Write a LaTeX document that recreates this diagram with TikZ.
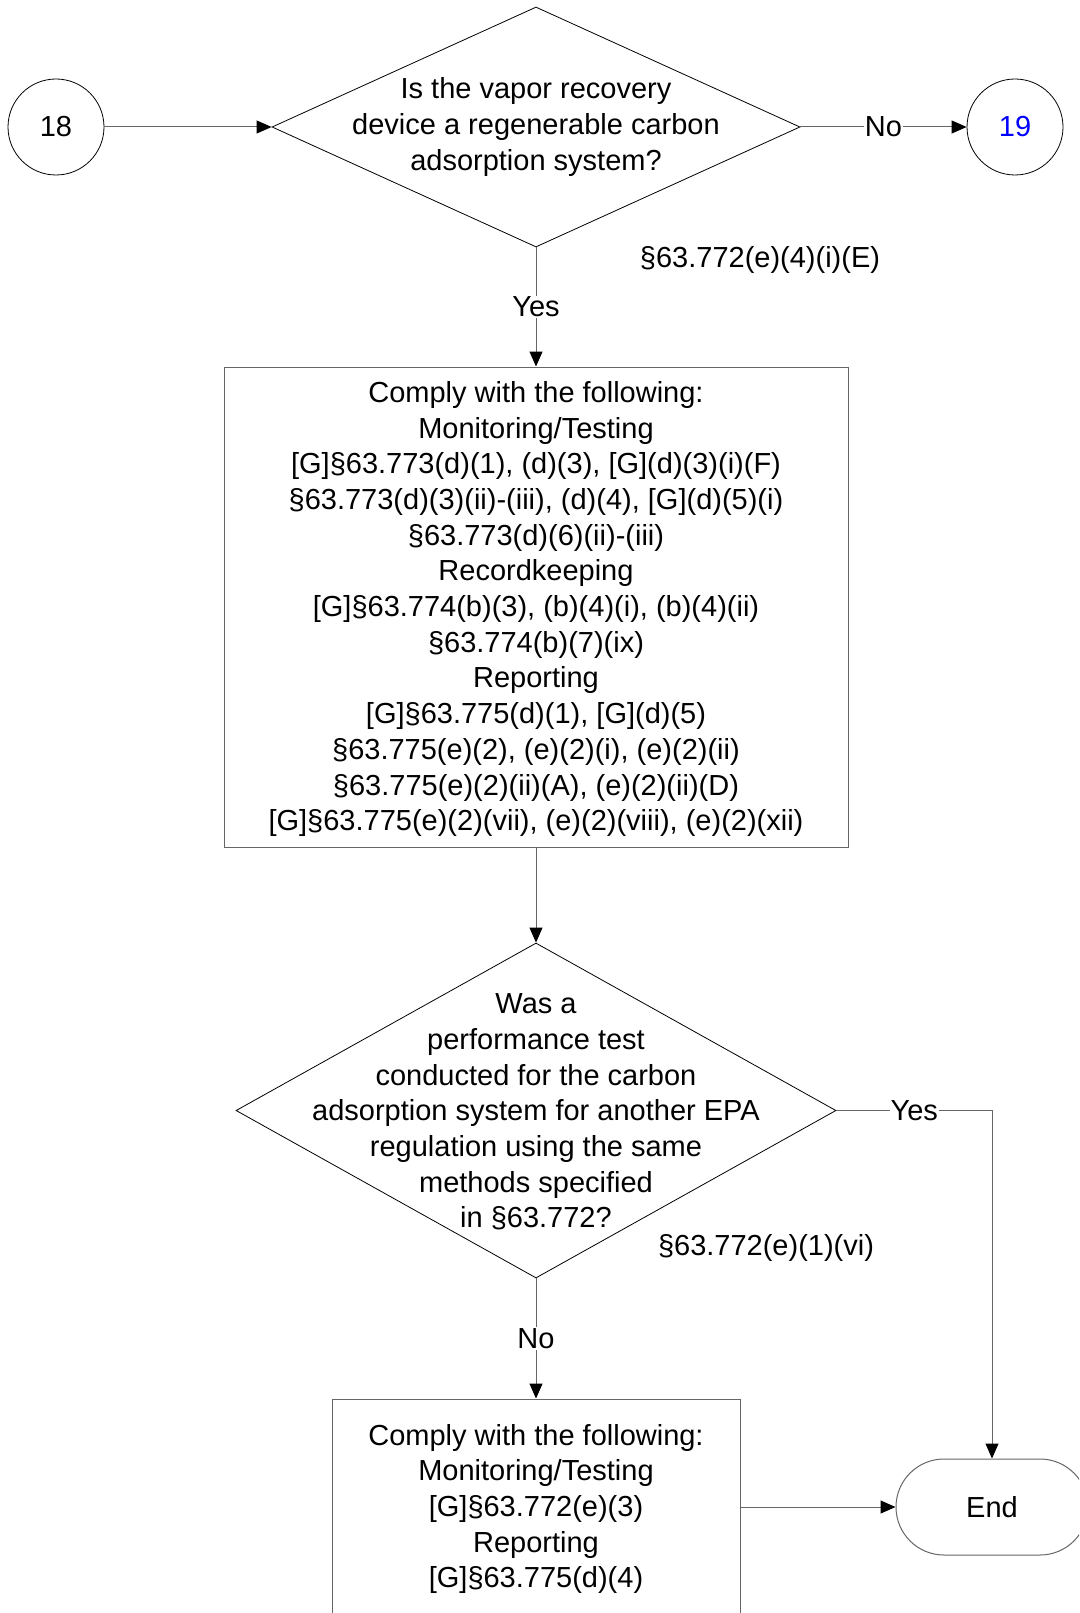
\documentclass[tikz,border=0pt]{standalone}
\usepackage{fontspec}
\setmainfont{Liberation Sans}
\usetikzlibrary{shapes.geometric,shapes.misc,arrows.meta}
\definecolor{linegray}{HTML}{666666}
\definecolor{linkblue}{HTML}{0000FF}
\begin{document}
\begin{tikzpicture}[x=1pt,y=-1pt,
  every node/.style={font=\fontsize{29}{35.7}\selectfont},
  txt/.style={align=center,inner sep=0pt},
  dia/.style={shape=diamond,draw=black,line width=0.8pt,inner sep=0pt},
  circ/.style={shape=circle,draw=black,line width=0.8pt,minimum size=96pt,inner sep=0pt},
  procbox/.style={shape=rectangle,draw=linegray,line width=1pt,inner sep=0pt},
  term/.style={shape=rounded rectangle,draw=linegray,line width=1pt,minimum width=192pt,minimum height=96pt,inner sep=0pt},
  conn/.style={draw=linegray,line width=1pt,-{Triangle[length=15pt,width=13pt,color=black]}},
  lbl/.style={fill=white,inner sep=1pt}]
\useasboundingbox (0,0) rectangle (1079,1613);
\clip (0,0) rectangle (1079,1613);

% shapes
\node[circ] (c18) at (56,127) {18};
\node[circ,text=linkblue] (c19) at (1015,127) {19};
\node[dia,minimum width=528pt,minimum height=240pt] (d1) at (536,127) {};
\node[txt] (d1t) at (536,127) {Is the vapor recovery\\device a regenerable carbon\\adsorption system?};
\node[txt] (r1) at (760,260) {§63.772(e)(4)(i)(E)};

\node[procbox,minimum width=624pt,minimum height=480pt] (b1) at (536,607) {};
\node[txt] (b1t) at (536,609) {Comply with the following:\\Monitoring/Testing\\{}[G]§63.773(d)(1), (d)(3), [G](d)(3)(i)(F)\\§63.773(d)(3)(ii)-(iii), (d)(4), [G](d)(5)(i)\\§63.773(d)(6)(ii)-(iii)\\Recordkeeping\\{}[G]§63.774(b)(3), (b)(4)(i), (b)(4)(ii)\\§63.774(b)(7)(ix)\\Reporting\\{}[G]§63.775(d)(1), [G](d)(5)\\§63.775(e)(2), (e)(2)(i), (e)(2)(ii)\\§63.775(e)(2)(ii)(A), (e)(2)(ii)(D)\\{}[G]§63.775(e)(2)(vii), (e)(2)(viii), (e)(2)(xii)};

\node[dia,minimum width=600pt,minimum height=335pt] (d2) at (536,1110.5) {};
\node[txt] (d2t) at (536,1112) {Was a\\performance test\\conducted for the carbon\\adsorption system for another EPA\\regulation using the same\\methods specified\\in §63.772?};
\node[txt] (r2) at (766,1248) {§63.772(e)(1)(vi)};

\node[procbox,minimum width=408pt,minimum height=220pt] (b2) at (536,1509) {};
\node[txt] (b2t) at (536,1509) {Comply with the following:\\Monitoring/Testing\\{}[G]§63.772(e)(3)\\Reporting\\{}[G]§63.775(d)(4)};

\node[term] (endn) at (992,1507) {End};

% connectors
\draw[conn] (c18) -- (d1);
\draw[conn] (d1) -- node[lbl]{No} (c19);
\draw[conn] (d1) -- node[lbl]{Yes} (b1);
\draw[conn] (b1) -- (d2);
\draw[conn] (d2) -- node[lbl]{No} (b2);
\draw[conn] (d2.east) -| node[lbl,pos=0.25]{Yes} (endn.north);
\draw[conn] (endn.west -| b2.east) -- (endn.west);
\end{tikzpicture}
\end{document}
